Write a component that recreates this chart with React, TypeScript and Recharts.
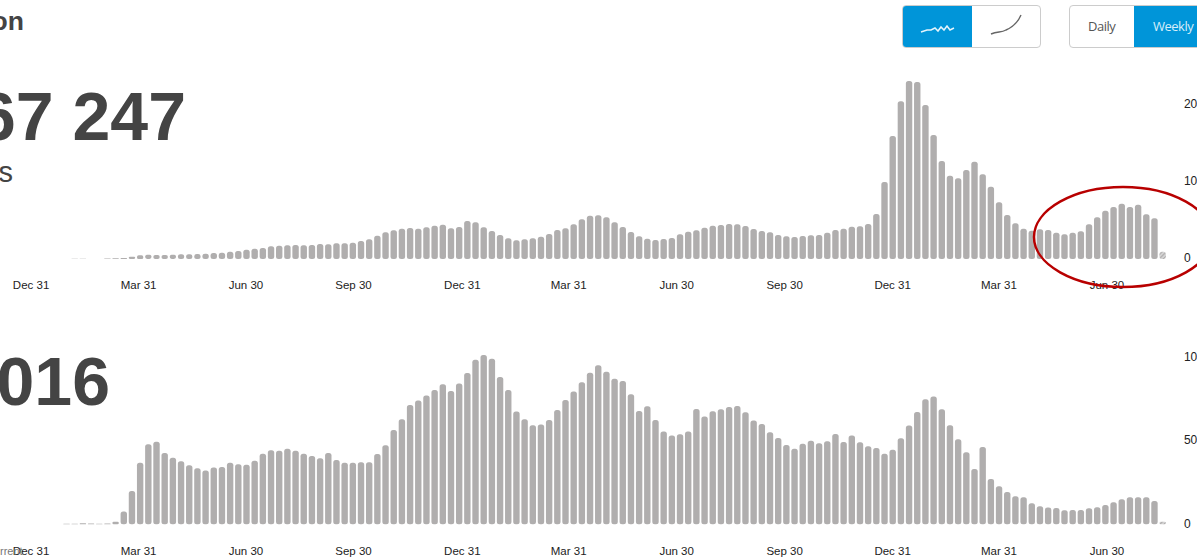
import { BarChart, Bar, Cell, XAxis, YAxis } from "recharts";

// weekly totals; cases in millions, deaths in thousands
const casesMillions = [
  0, 0, 0, 0, 0, 0.04, 0.04, 0, 0, 0.06, 0.09, 0.13, 0.3,
  0.48, 0.56, 0.52, 0.52, 0.56, 0.61, 0.61, 0.65, 0.69, 0.78,
  0.82, 0.95, 1.04, 1.21, 1.34, 1.43, 1.65, 1.73, 1.78, 1.82,
  1.78, 1.82, 1.95, 1.91, 2.04, 2.04, 2.12, 2.34, 2.56, 3.03,
  3.47, 3.73, 3.94, 4.03, 3.94, 4.12, 4.32, 4.45, 3.99, 4.16,
  4.94, 4.77, 4.12, 3.64, 3.12, 2.69, 2.43, 2.56, 2.69, 2.9,
  3.25, 3.77, 3.99, 4.5, 5.16, 5.62, 5.68, 5.42, 4.77, 4.16,
  3.51, 2.95, 2.64, 2.47, 2.6, 2.73, 3.21, 3.55, 3.73, 4.06,
  4.32, 4.42, 4.55, 4.51, 4.29, 3.9, 3.64, 3.47, 3.12, 2.95,
  2.86, 2.99, 3.08, 3.12, 3.42, 3.77, 3.94, 4.19, 4.25, 4.55,
  5.84, 10.0, 15.97, 20.48, 23.12, 22.99, 20.0, 16.1, 12.73, 10.82,
  10.48, 11.56, 12.64, 11.0, 9.39, 7.36, 5.71, 4.64, 3.94, 3.68,
  3.86, 3.77, 3.42, 3.21, 3.42, 3.6, 4.51, 5.42, 6.27, 6.75,
  7.18, 6.75, 7.05, 5.81, 5.29, 0.95,
];

const deathsThousands = [
  0.1, 0, 0, 0, 0.3, 0.4, 0.6, 0.5, 0.4, 0.5, 1.6, 7.6, 19.9,
  36.9, 47.9, 49.5, 42.7, 39.9, 37.7, 35.3, 33.5, 32.2, 34,
  34.3, 36.9, 35.9, 35.7, 38.1, 42.3, 44.3, 44.1, 45.3, 44.1,
  42.3, 40.9, 39.5, 42.7, 38.5, 36.9, 36.9, 37.1, 37.1, 42.1,
  47.4, 56.5, 62.9, 71.4, 74.1, 77.2, 80.4, 83.8, 79.8, 84.3,
  90.6, 98.6, 101.4, 99.2, 88.2, 80.4, 67.5, 62.9, 59.3, 59.7,
  62.5, 68.4, 74.4, 79.5, 85, 90.8, 95.2, 91.4, 87.2, 85.8,
  77.8, 67.8, 70.7, 62.5, 55.5, 53.1, 53.9, 55.5, 69, 64.5,
  67.7, 68.9, 70.2, 70.8, 67.1, 62.1, 60.1, 55.1, 51.7, 47.5,
  45.3, 48.3, 50.1, 48.5, 49.7, 54.1, 49.3, 53.1, 49.1, 46.7,
  45.7, 42.3, 44.7, 51.5, 59.1, 67.2, 74.9, 76.6, 68.9, 59.3,
  50.9, 43.1, 33.1, 46.3, 27.1, 22.8, 19.3, 16.8, 16.2, 12.6,
  10.8, 10, 9.8, 8.4, 8.6, 8.6, 9.6, 10.2, 11.6, 13.2,
  15, 16.2, 16.2, 16.2, 14, 1.6,
];

const xTickWeeks = [-0.32, 12.82, 25.95, 39.1, 52.4, 65.4, 78.6, 91.8, 105, 118, 131.2];
const xTickLabels = [
  "Dec 31", "Mar 31", "Jun 30", "Sep 30", "Dec 31", "Mar 31",
  "Jun 30", "Sep 30", "Dec 31", "Mar 31", "Jun 30",
];
const caseTicks = [0, 10, 20];
const deathTicks = [0, 50, 100];

const casesData = casesMillions.map((value, week) => ({ week, value }));
const deathsData = deathsThousands.map((value, week) => ({ week, value }));

const BAR_GREY = "#b0aeae";
const BLUE = "#0095d9";
const FONT = "'Liberation Sans', Arial, sans-serif";

function WeeklyBars({ data, ticks, yMax, suffix, height, top, xAxisHeight, xTickMargin, fillId }: any) {
  return (
    <BarChart
      width={1240}
      height={height}
      data={data}
      margin={{ top, right: 0, bottom: 0, left: 0.98 }}
      style={{ fontFamily: FONT }}
    >
      <defs>
        <pattern id={fillId} width="3" height="3" patternUnits="userSpaceOnUse" patternTransform="rotate(45)">
          <rect width="3" height="3" fill="#dcdcdc" />
          <rect width="1.5" height="3" fill={BAR_GREY} />
        </pattern>
      </defs>
      <XAxis
        dataKey="week"
        type="number"
        domain={[-4, 140]}
        ticks={xTickWeeks}
        interval={0}
        tickFormatter={(_: number, i: number) => xTickLabels[i]}
        axisLine={false}
        tickLine={false}
        tickSize={0}
        tickMargin={xTickMargin}
        height={xAxisHeight}
        tick={{ fontSize: 11.5, fill: "#222" }}
      />
      <YAxis
        orientation="right"
        type="number"
        domain={[0, yMax]}
        ticks={ticks}
        interval={0}
        tickFormatter={(v: number) => (v === 0 ? "0" : v + suffix)}
        axisLine={false}
        tickLine={false}
        tickSize={0}
        tickMargin={5}
        width={61.1}
        tick={{ fontSize: 12, fill: "#222", textAnchor: "start", dy: -1 }}
      />
      <Bar dataKey="value" fill={BAR_GREY} barSize={6.4} radius={2.5} isAnimationActive={false}>
        {data.map((d: any) => (
          <Cell key={d.week} fill={d.week === data.length - 1 ? `url(#${fillId})` : BAR_GREY} />
        ))}
      </Bar>
    </BarChart>
  );
}

const cropped = (right: number, top: number, size: number, weight: string, color: string): any => ({
  position: "absolute",
  right: 1197 - right,
  top,
  fontSize: size,
  lineHeight: size + "px",
  fontWeight: weight,
  color,
  whiteSpace: "nowrap",
});

export default function App() {
  return (
    <div style={{ position: "absolute", left: 0, top: 0, width: 1197, height: 560, overflow: "hidden", background: "#fff", fontFamily: FONT }}>
      <div style={{ position: "absolute", left: 0, top: 0 }}>
        <WeeklyBars data={casesData} ticks={caseTicks} yMax={25} suffix="M" height={300} top={66.5} xAxisHeight={41} xTickMargin={22} fillId="stripeCases" />
      </div>
      <div style={{ position: "absolute", left: 0, top: 300 }}>
        <WeeklyBars data={deathsData} ticks={deathTicks} yMax={110} suffix="K" height={260} top={40.6} xAxisHeight={35.7} xTickMargin={23} fillId="stripeDeaths" />
      </div>

      <div style={cropped(24, 8, 26.5, "bold", "#444")}>Situation</div>
      <div style={cropped(186, 82, 68, "bold", "#444")}>67 247</div>
      <div style={cropped(13, 158, 29, "normal", "#444")}>cases</div>
      <div style={cropped(110, 347, 68, "bold", "#444")}>016</div>
      <div style={{ position: "absolute", left: 0, top: 545, fontSize: 11, color: "#777" }}>rrent</div>

      <div style={{ position: "absolute", left: 902, top: 5, width: 137, height: 41, border: "1px solid #ccc", borderRadius: 4, overflow: "hidden", background: "#fff" }}>
        <div style={{ width: 69, height: 41, background: BLUE }} />
      </div>
      <svg style={{ position: "absolute", left: 0, top: 0 }} width={1197} height={560} fill="none">
        <polyline points="921,32 927,30 931,30 935,28 938,31 941,27 944,30 947,26 950,30 954,28" stroke="#e4f4fc" strokeWidth={1.5} />
        <path d="M991 34 C998 31 1001 33 1006 30 C1013 27 1018 22 1021 15" stroke="#666" strokeWidth={1.4} />
        <ellipse cx={1123} cy={237} rx={89} ry={50} stroke="#b80000" strokeWidth={2.5} />
      </svg>

      <div style={{ position: "absolute", left: 1069, top: 5, width: 160, height: 41, border: "1px solid #ccc", borderRadius: 4, overflow: "hidden", background: "#fff" }}>
        <div style={{ position: "absolute", left: 64, top: 0, width: 96, height: 41, background: BLUE }} />
      </div>
      <div style={{ position: "absolute", left: 1088, top: 17, fontFamily: "'Open Sans', sans-serif", fontSize: 13, letterSpacing: -0.5, color: "#555" }}>Daily</div>
      <div style={{ position: "absolute", left: 1153, top: 17, fontFamily: "'Open Sans', sans-serif", fontSize: 13, letterSpacing: -0.5, color: "#d6eefa" }}>Weekly</div>
    </div>
  );
}
